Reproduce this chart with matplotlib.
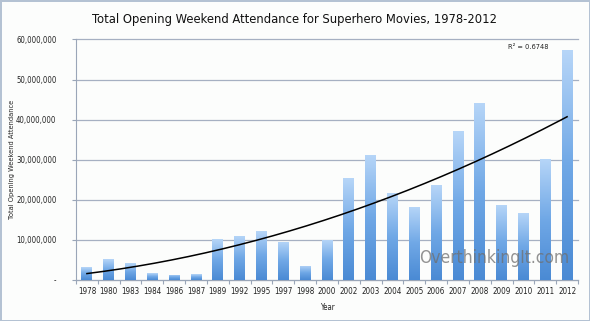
import numpy as np
import matplotlib
matplotlib.use("Agg")
import matplotlib.pyplot as plt
from matplotlib.colors import LinearSegmentedColormap
from matplotlib.ticker import FuncFormatter, FixedLocator

years = ["1978", "1980", "1983", "1984", "1986", "1987", "1989", "1992", "1995", "1997",
         "1998", "2000", "2002", "2003", "2004", "2005", "2006", "2007", "2008", "2009",
         "2010", "2011", "2012"]
attendance = [3.2e6, 5.2e6, 4.2e6, 1.7e6, 1.25e6, 1.4e6, 10.2e6, 11.1e6, 12.2e6, 9.6e6,
              3.6e6, 10.1e6, 25.4e6, 31.3e6, 21.7e6, 18.3e6, 23.7e6, 37.1e6, 44.2e6, 18.75e6,
              16.8e6, 30.2e6, 57.3e6]
yticks = [0, 10e6, 20e6, 30e6, 40e6, 50e6, 60e6]
r2_label = "R² = 0.6748"

plt.rcParams['font.family'] = ['DejaVu Sans']
plt.rcParams['font.stretch'] = 'condensed'

fig = plt.figure(figsize=(5.9, 3.21), dpi=100, facecolor='#fcfdfc')
fig.patch.set_edgecolor('#b4c2d3')
fig.patch.set_linewidth(2)
ax = fig.add_axes([76/590, 1 - 280/321, (578-76)/590, (280-39.5)/321])
ax.set_facecolor('#fcfdfc')

n = len(years)
x = np.arange(n)
cmap = LinearSegmentedColormap.from_list('bar', ['#4a8ad4', '#70a8e6', '#b7d6f8'])
grad = np.linspace(0, 1, 256).reshape(-1, 1)
width = 0.5
for xi, v in zip(x, attendance):
    bars = ax.bar(xi, v, width=width, color='none', edgecolor='none', zorder=3)
    patch = bars[0]
    im = ax.imshow(grad, cmap=cmap, origin='lower', aspect='auto',
                   extent=[xi - width/2, xi + width/2, 0, v], zorder=3)
    im.set_clip_path(patch)

# polynomial (order 2) trend line, Excel style on category index 1..n
xi_fit = x + 1
coef = np.polyfit(xi_fit, attendance, 2)
xs = np.linspace(1, n, 200)
ax.plot(xs - 1, np.polyval(coef, xs), color='black', lw=1.1, zorder=4)

ax.set_xlim(-0.5, n - 0.5)
ax.set_ylim(0, 60e6)
ax.set_yticks(yticks)
ax.yaxis.set_major_formatter(FuncFormatter(lambda v, p: '-' if v == 0 else f'{int(v):,}'))
ax.set_xticks(x)
ax.set_xticklabels(years)
ax.xaxis.set_minor_locator(FixedLocator(np.arange(-0.5, n, 1)))
ax.tick_params(axis='x', which='major', length=0, labelsize=5.8, pad=5, colors='#222222')
ax.tick_params(axis='x', which='minor', length=3, color='#9aa6b8', width=0.8)
ax.tick_params(axis='y', length=3, labelsize=5.6, color='#9aa6b8', colors='#222222', pad=11)

ax.grid(axis='y', color='#a6b0c2', lw=0.9, zorder=1)
for gl in ax.get_ygridlines():
    gl.set_clip_on(False)
ax.set_axisbelow(True)
for s in ['top', 'right']:
    ax.spines[s].set_visible(False)
ax.spines['left'].set_color('#9aa6b8')
ax.spines['bottom'].set_color('#9aa6b8')

ax.set_xlabel('Year', fontsize=5.6, color='#222222')
ax.xaxis.set_label_coords((327 - 76) / 502, -(303 - 280) / 240.5)
ax.set_ylabel('Total Opening Weekend Attendance', fontsize=5.3, color='#222222')
ax.yaxis.set_label_coords(-(76 - 15) / 502, 0.5)

fig.text(294.5/590, 1 - 19/321, 'Total Opening Weekend Attendance for Superhero Movies, 1978-2012',
         ha='center', va='center', fontsize=9.3, color='#111111')
ax.text((549 - 76) / 502, (280 - 47) / 240.5, r2_label, transform=ax.transAxes, ha='right',
        va='center', fontsize=5.3, color='#222222')
ax.text(0.982, (280 - 258) / 240.5, 'OverthinkingIt.com', transform=ax.transAxes, ha='right',
        va='center', fontsize=12.5, color='#6f6f6f', alpha=0.75, zorder=5)

fig.savefig('out.png', dpi=100, facecolor=fig.get_facecolor(), edgecolor=fig.get_edgecolor())
